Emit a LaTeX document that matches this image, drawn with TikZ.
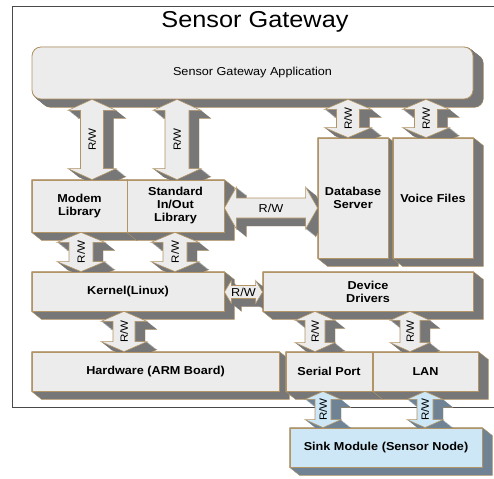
\documentclass[tikz,border=0pt]{standalone}
\usepackage{fontspec}
\setmainfont[FakeStretch=1.1]{Liberation Sans}
\usetikzlibrary{calc}
\pgfdeclarelayer{back}
\pgfdeclarelayer{background}
\pgfsetlayers{back,background,main}

\definecolor{cface}{HTML}{ECECEC}
\definecolor{cside}{HTML}{777777}
\definecolor{cedge}{HTML}{B39464}
\definecolor{cblueface}{HTML}{CDE7F6}
\definecolor{cblueside}{HTML}{6F8394}
\definecolor{cframe}{HTML}{4A4A4A}

\tikzset{
  blk/.style={draw=cedge, fill=cface, line width=0.8pt, inner sep=0pt, align=center,
    text=black, font=\bfseries\fontsize{11.5}{13}\selectfont},
  rwv/.style={rotate=90, inner sep=0pt, font=\fontsize{10.5}{12}\selectfont},
  rwh/.style={inner sep=0pt, font=\fontsize{11.5}{13}\selectfont},
  arrface/.style={fill=#1, draw=cedge, line width=0.6pt},
  framebox/.style={draw=cframe, line width=0.9pt},
  sideface/.style={fill=#1, draw=cedge, line width=0.4pt, line join=round},
}

% extruded side faces of an arbitrary outline: a sweep of shifted copies
\newcommand\extr[2]{%
  \filldraw[sideface=#1, transform canvas={shift={(10pt,-8pt)}}] #2;
  \foreach \t in {0.5,1,...,9.5}{%
    \fill[fill=#1, transform canvas={shift={({\t*1pt},{-\t*0.8pt})}}] #2;}%
}
% extruded side faces of a rectangular block
\newcommand\boxside[2]{%
  \begin{pgfonlayer}{background}
    \filldraw[sideface=#1] (#2.north west) -- (#2.north east) -- ++(10pt,-8pt)
      -- ($(#2.south east)+(10pt,-8pt)$) -- ($(#2.south west)+(10pt,-8pt)$)
      -- (#2.south west) -- cycle;
  \end{pgfonlayer}}

% vertical and horizontal double arrows between two points
\def\vshape#1#2#3#4#5{(#1) -- ($(#1)+(-#4,#5)$) -- ($(#1)+(-#3,#5)$) -- ($(#2)+(-#3,-#5)$)
  -- ($(#2)+(-#4,-#5)$) -- (#2) -- ($(#2)+(#4,-#5)$) -- ($(#2)+(#3,-#5)$)
  -- ($(#1)+(#3,#5)$) -- ($(#1)+(#4,#5)$) -- cycle}
\def\hshape#1#2#3#4#5{(#1) -- ($(#1)+(#5,-#4)$) -- ($(#1)+(#5,-#3)$) -- ($(#2)+(-#5,-#3)$)
  -- ($(#2)+(-#5,-#4)$) -- (#2) -- ($(#2)+(-#5,#4)$) -- ($(#2)+(-#5,#3)$)
  -- ($(#1)+(#5,#3)$) -- ($(#1)+(#5,#4)$) -- cycle}

% #1 from, #2 to, #3 shaft half width, #4 head half width, #5 head length,
% #6 face colour, #7 side colour, #8 label name, #9 v or h
\newcommand\rwlink[9]{%
  \coordinate (#8-p) at (#1);
  \coordinate (#8-q) at (#2);
  \begin{pgfonlayer}{background}
    \extr{#7}{\csname #9shape\endcsname{#8-p}{#8-q}{#3}{#4}{#5}}
  \end{pgfonlayer}
  \filldraw[arrface=#6] \csname #9shape\endcsname{#8-p}{#8-q}{#3}{#4}{#5};
  \node[rw#9] (#8) at ($(#8-p)!0.5!(#8-q)$) {R/W};
}

\begin{document}
\begin{tikzpicture}[x=1pt, y=-1pt]
\useasboundingbox (0,0) rectangle (494,478);

% outer frame
\begin{pgfonlayer}{back}
  \draw[framebox] (499,6) -- (12,6) -- (12,407) -- (499,407);
\end{pgfonlayer}
\node[font=\fontsize{23}{26}\selectfont, inner sep=0pt] (title) at (255,22) {Sensor Gateway};

% blocks
\node[blk, rounded corners=9pt, font=\fontsize{11.5}{13}\selectfont,
      minimum width=441pt, minimum height=52pt] (app) at (252.5,73) {Sensor Gateway Application};
\node[blk, minimum width=95pt, minimum height=52pt] (modem) at (79.5,206) {Modem\\Library};
\node[blk, minimum width=97pt, minimum height=52pt] (stdio) at (175.5,206) {Standard\\In/Out\\Library};
\node[blk, minimum width=70pt, minimum height=120pt] (db) at (353,198) {Database\\Server};
\node[blk, minimum width=80pt, minimum height=120pt] (voice) at (433,198) {Voice Files};
\node[blk, minimum width=192pt, minimum height=39pt] (kernel) at (128,291.5) {Kernel(Linux)};
\node[blk, minimum width=210pt, minimum height=39pt] (drivers) at (368,291.5) {Device\\Drivers};
\node[blk, minimum width=247pt, minimum height=39pt] (hw) at (155.5,371.5) {Hardware (ARM Board)};
\node[blk, minimum width=86pt, minimum height=39pt] (serial) at (329,371.5) {Serial Port};
\node[blk, minimum width=105pt, minimum height=39pt] (lan) at (425.5,371.5) {LAN};
\node[blk, fill=cblueface, minimum width=192pt, minimum height=39pt] (sink) at (386,447.5) {Sink Module (Sensor Node)};

% extruded sides of the blocks
\begin{pgfonlayer}{background}
  \extr{cside}{[rounded corners=9pt] (app.north west) rectangle (app.south east)}
\end{pgfonlayer}
\foreach \b in {modem,stdio,db,voice,kernel,drivers,hw,serial,lan}{\boxside{cside}{\b}}
\boxside{cblueside}{sink}

% read/write links
\rwlink{92,0 |- app.south}{92,0 |- modem.north}{11.5}{24}{11}{cface}{cside}{rw1}{v}
\rwlink{177,0 |- app.south}{177,0 |- stdio.north}{12}{24}{11}{cface}{cside}{rw2}{v}
\rwlink{348,0 |- app.south}{348,0 |- db.north}{11.5}{23.5}{10}{cface}{cside}{rw3}{v}
\rwlink{426,0 |- app.south}{426,0 |- voice.north}{11.5}{23.5}{10}{cface}{cside}{rw4}{v}
\rwlink{81,0 |- modem.south}{81,0 |- kernel.north}{12}{24}{10}{cface}{cside}{rw5}{v}
\rwlink{175,0 |- stdio.south}{175,0 |- kernel.north}{12}{24}{10}{cface}{cside}{rw6}{v}
\rwlink{124,0 |- kernel.south}{124,0 |- hw.north}{11}{23}{10}{cface}{cside}{rw7}{v}
\rwlink{315,0 |- drivers.south}{315,0 |- serial.north}{10}{20}{9}{cface}{cside}{rw8}{v}
\rwlink{410,0 |- drivers.south}{410,0 |- lan.north}{10}{20}{9}{cface}{cside}{rw9}{v}
\rwlink{323,0 |- serial.south}{323,0 |- sink.north}{8}{18}{8}{cblueface}{cblueside}{rw10}{v}
\rwlink{425,0 |- lan.south}{425,0 |- sink.north}{8}{18}{8}{cblueface}{cblueside}{rw11}{v}
\rwlink{stdio.east |- 0,208}{db.west |- 0,208}{10}{21}{12}{cface}{cside}{rw12}{h}
\rwlink{kernel.east |- 0,292}{drivers.west |- 0,292}{6.5}{11.5}{7}{cface}{cside}{rw13}{h}
\end{tikzpicture}
\end{document}
